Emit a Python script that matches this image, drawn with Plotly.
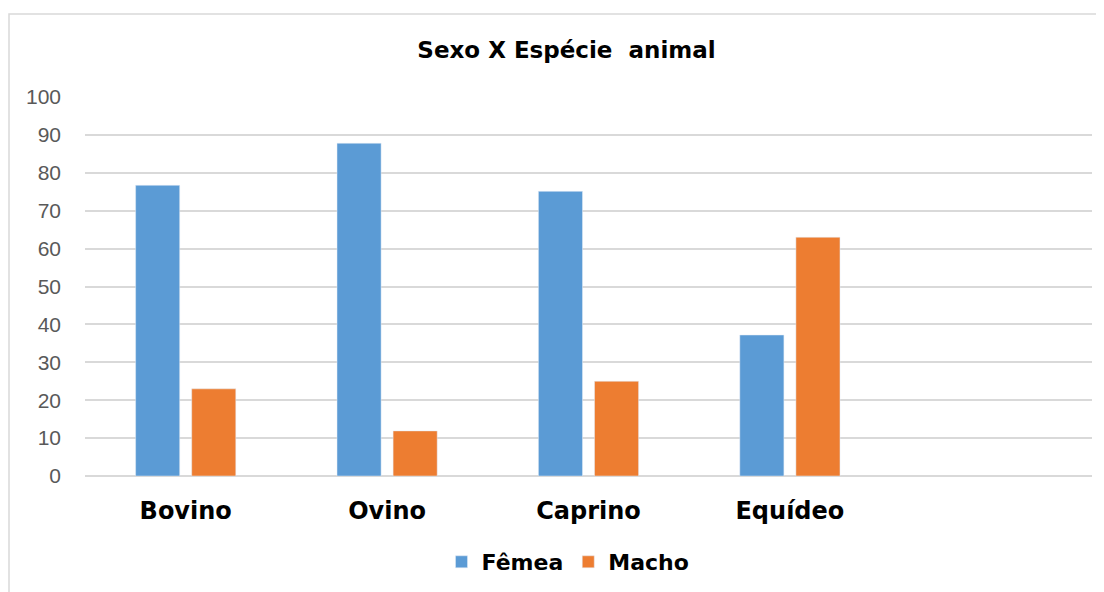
import plotly.graph_objects as go

categories = ["Bovino", "Ovino", "Caprino", "Equídeo"]
femea = [76.7, 87.8, 75.1, 37.2]
macho = [23.0, 11.9, 25.0, 63.0]
y_ticks = list(range(0, 101, 10))

BOLD_FONT = "DejaVu Sans, Liberation Sans, Arial"
REG_FONT = "Liberation Sans, Arial"

fig = go.Figure()
fig.add_trace(go.Bar(name="<b>Fêmea</b>", x=categories, y=femea, marker_color="#5B9BD5"))
fig.add_trace(go.Bar(name="<b>Macho</b>", x=categories, y=macho, marker_color="#ED7D31"))

# plot area in figure px: x 77..1084, y 89..468 (page adds 8px body margin)
L, R, T, B = 77, 1084, 89, 468
W, H = R - L, B - T

fig.update_layout(
    width=1104, height=592,
    paper_bgcolor="white", plot_bgcolor="white",
    margin=dict(l=L, r=1104 - R, t=T, b=592 - B),
    barmode="group", bargap=0.443, bargroupgap=0.214,
    title=dict(text="<b>Sexo X Espécie  animal</b>", x=(558.5 - L) / W, xref="paper",
               xanchor="center", y=1 - 42 / 592, yref="container", yanchor="middle",
               font=dict(family=BOLD_FONT, size=23, color="#000000")),
    font=dict(family=REG_FONT),
    legend=dict(orientation="h", x=(560 - L) / W, xanchor="center",
                y=(B - 554) / H, yanchor="middle",
                font=dict(size=22, color="#000000", family=BOLD_FONT),
                itemwidth=30, traceorder="normal"),
    xaxis=dict(type="category", range=[-0.5, 4.5], showgrid=False,
               showline=False, ticks="", ticklabelstandoff=18,
               tickfont=dict(size=24, color="#000000", family=BOLD_FONT),
               tickvals=categories, ticktext=["<b>%s</b>" % c for c in categories]),
    yaxis=dict(range=[0, 100], tickvals=y_ticks, showgrid=True, gridcolor="#D9D9D9",
               gridwidth=1.5, zeroline=True, zerolinecolor="#D9D9D9", zerolinewidth=1.5,
               showline=False, ticks="", ticklabelstandoff=23,
               tickfont=dict(size=21, color="#595959", family=REG_FONT)),
    showlegend=True,
)

# chart-area border
fig.add_shape(type="rect", xref="paper", yref="paper",
              x0=(1 - L) / W, x1=(1089 - L) / W,
              y0=(B - 600) / H, y1=(B - 6) / H,
              line=dict(color="#D9D9D9", width=1.5), fillcolor="rgba(0,0,0,0)", layer="below")

fig.write_html("out.html")
